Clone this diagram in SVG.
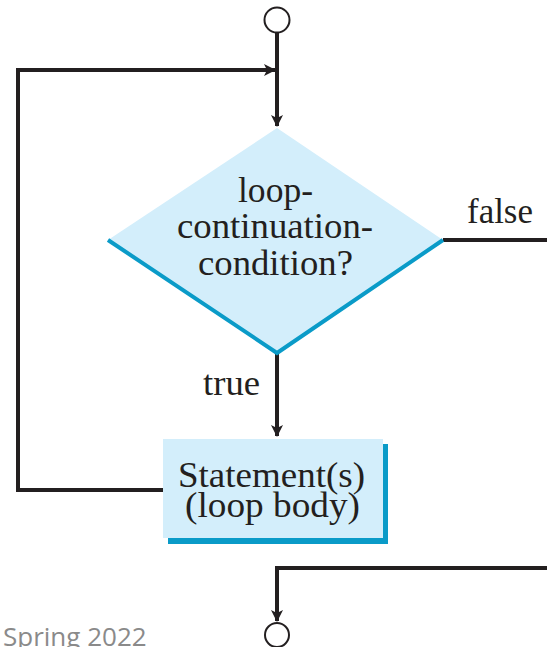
<svg xmlns="http://www.w3.org/2000/svg" width="547" height="647" viewBox="0 0 547 647">
<style>
.ln{fill:none;stroke:#231f20;stroke-width:4;stroke-linejoin:miter}
.t{font-family:"Liberation Serif","Times New Roman",serif;font-size:36px;fill:#231f20}
.c{fill:#fff;stroke:#231f20;stroke-width:2}
</style>
<defs>
<marker id="ah" viewBox="0 0 12 12" refX="11" refY="6" markerWidth="12" markerHeight="12" markerUnits="userSpaceOnUse" orient="auto">
<path d="M0,0 L12,6 L0,12 L3,6 Z" fill="#231f20"/>
</marker>
</defs>
<g id="connectors">
<line class="ln" x1="277" y1="33" x2="277" y2="126" marker-end="url(#ah)"/>
<polyline class="ln" points="163,490 18,490 18,70 275,70" marker-end="url(#ah)"/>
<line class="ln" x1="443" y1="240" x2="547" y2="240"/>
<line class="ln" x1="277" y1="353" x2="277" y2="436" marker-end="url(#ah)"/>
<polyline class="ln" points="547,568 277,568 277,621" marker-end="url(#ah)"/>
<text class="t" x="467" y="223" textLength="66" lengthAdjust="spacingAndGlyphs">false</text>
<text class="t" x="203" y="395" textLength="57" lengthAdjust="spacingAndGlyphs">true</text>
</g>
<g id="start"><circle class="c" cx="277" cy="20" r="12.5"/></g>
<g id="condition">
<polygon points="277,128 443,240 277,353 108,240" fill="#d3eefb"/>
<polyline points="108,240 277,353 443,240" fill="none" stroke="#0a9bc8" stroke-width="4"/>
<text class="t" x="238" y="202" textLength="75" lengthAdjust="spacingAndGlyphs">loop-</text>
<text class="t" x="177" y="238" textLength="196" lengthAdjust="spacingAndGlyphs">continuation-</text>
<text class="t" x="198" y="275" textLength="155" lengthAdjust="spacingAndGlyphs">condition?</text>
</g>
<g id="body">
<rect x="168" y="444" width="220" height="100" fill="#0a9bc8"/>
<rect x="163" y="439" width="220" height="99" fill="#d3eefb"/>
<text class="t" x="178" y="487" textLength="187" lengthAdjust="spacingAndGlyphs">Statement(s)</text>
<text class="t" x="185" y="517" textLength="175" lengthAdjust="spacingAndGlyphs">(loop body)</text>
</g>
<g id="end"><circle class="c" cx="277" cy="635" r="12"/></g>
<text x="3" y="646" font-family="'Open Sans','Liberation Sans',sans-serif" font-size="26" fill="#8a8a8a">Spring 2022</text>
</svg>
